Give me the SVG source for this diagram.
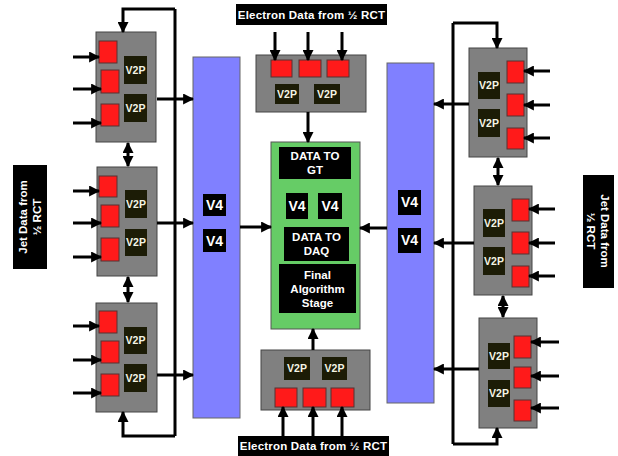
<svg xmlns="http://www.w3.org/2000/svg" width="618" height="456" viewBox="0 0 618 456">
<defs>
<marker id="ah" viewBox="0 0 10 10" refX="9" refY="5" markerWidth="11" markerHeight="11" markerUnits="userSpaceOnUse" orient="auto-start-reverse">
<path d="M0,0 L10,5 L0,10 z" fill="#000"/>
</marker>
<style>
.card{fill:#808080;stroke:#444;stroke-width:1}
.red{fill:#ff1a1a;stroke:#553333;stroke-width:1}
.v2p{fill:#1c1c06}
.blk{fill:#000}
.blue{fill:#8080ff;stroke:#666;stroke-width:1}
.green{fill:#66cc66;stroke:#555;stroke-width:1}
.t{font-family:"Liberation Sans",Arial,sans-serif;font-weight:bold;fill:#fff;text-anchor:middle}
.v2pt{font-size:10.5px;fill:#f4f4e4}
.v4t{font-size:14px}
.gt{font-size:11.5px}
.lbl{font-size:11.5px}
.c{fill:none;stroke:#000;stroke-width:3}
.a{marker-end:url(#ah)}
.d{marker-start:url(#ah);marker-end:url(#ah)}
</style>
</defs>

<!-- Blue bars -->
<g id="blue-left">
<rect class="blue" x="193" y="57" width="47" height="361"/>
<rect class="blk" x="203" y="194" width="23" height="22"/>
<text class="t v4t" x="214.5" y="210">V4</text>
<rect class="blk" x="203" y="229" width="23" height="23"/>
<text class="t v4t" x="214.5" y="246">V4</text>
</g>
<g id="blue-right">
<rect class="blue" x="387" y="63" width="47" height="340"/>
<rect class="blk" x="398" y="190" width="23" height="25"/>
<text class="t v4t" x="409.5" y="207">V4</text>
<rect class="blk" x="398" y="228" width="23" height="25"/>
<text class="t v4t" x="409.5" y="245">V4</text>
</g>

<!-- Green center -->
<g id="green">
<rect class="green" x="271" y="142" width="89" height="187"/>
<rect class="blk" x="279" y="147" width="72" height="32"/>
<text class="t gt" x="315" y="160">DATA TO</text>
<text class="t gt" x="315" y="174">GT</text>
<rect class="blk" x="286" y="193" width="22" height="26"/>
<text class="t v4t" x="297" y="211">V4</text>
<rect class="blk" x="318" y="193" width="24" height="26"/>
<text class="t v4t" x="330" y="211">V4</text>
<rect class="blk" x="284" y="227" width="65" height="34"/>
<text class="t gt" x="316.5" y="241">DATA TO</text>
<text class="t gt" x="316.5" y="255">DAQ</text>
<rect class="blk" x="279" y="264" width="77" height="49"/>
<text class="t gt" x="317.5" y="279">Final</text>
<text class="t gt" x="317.5" y="293">Algorithm</text>
<text class="t gt" x="317.5" y="307">Stage</text>
</g>

<!-- Left cards -->
<g id="left-card-1">
<rect class="card" x="96" y="32" width="60" height="110"/>
<rect class="red" x="99" y="41" width="18" height="22"/>
<rect class="red" x="101" y="70" width="18" height="23"/>
<rect class="red" x="101" y="104" width="18" height="22"/>
<rect class="v2p" x="124" y="56" width="23" height="28"/>
<text class="t v2pt" x="135.5" y="74">V2P</text>
<rect class="v2p" x="124" y="94" width="23" height="28"/>
<text class="t v2pt" x="135.5" y="112">V2P</text>
</g>
<g id="left-card-2">
<rect class="card" x="97" y="167" width="60" height="109"/>
<rect class="red" x="99" y="176" width="18" height="21"/>
<rect class="red" x="101" y="205" width="18" height="22"/>
<rect class="red" x="101" y="238" width="18" height="23"/>
<rect class="v2p" x="125" y="190" width="22" height="28"/>
<text class="t v2pt" x="136" y="208">V2P</text>
<rect class="v2p" x="125" y="229" width="22" height="27"/>
<text class="t v2pt" x="136" y="246">V2P</text>
</g>
<g id="left-card-3">
<rect class="card" x="96" y="303" width="61" height="109"/>
<rect class="red" x="99" y="311" width="18" height="22"/>
<rect class="red" x="101" y="341" width="18" height="22"/>
<rect class="red" x="101" y="374" width="18" height="22"/>
<rect class="v2p" x="124" y="327" width="23" height="27"/>
<text class="t v2pt" x="135.5" y="344">V2P</text>
<rect class="v2p" x="124" y="364" width="23" height="28"/>
<text class="t v2pt" x="135.5" y="382">V2P</text>
</g>

<!-- Right cards -->
<g id="right-card-1">
<rect class="card" x="469" y="48" width="58" height="109"/>
<rect class="v2p" x="478" y="72" width="22" height="27"/>
<text class="t v2pt" x="489" y="89">V2P</text>
<rect class="v2p" x="478" y="109" width="22" height="28"/>
<text class="t v2pt" x="489" y="127">V2P</text>
<rect class="red" x="507" y="61" width="17" height="22"/>
<rect class="red" x="507" y="94" width="17" height="22"/>
<rect class="red" x="507" y="128" width="17" height="21"/>
</g>
<g id="right-card-2">
<rect class="card" x="474" y="186" width="58" height="109"/>
<rect class="v2p" x="483" y="209" width="22" height="28"/>
<text class="t v2pt" x="494" y="227">V2P</text>
<rect class="v2p" x="483" y="247" width="22" height="28"/>
<text class="t v2pt" x="494" y="265">V2P</text>
<rect class="red" x="512" y="199" width="17" height="22"/>
<rect class="red" x="512" y="232" width="17" height="22"/>
<rect class="red" x="512" y="266" width="17" height="21"/>
</g>
<g id="right-card-3">
<rect class="card" x="479" y="318" width="58" height="110"/>
<rect class="v2p" x="488" y="343" width="22" height="26"/>
<text class="t v2pt" x="499" y="360">V2P</text>
<rect class="v2p" x="488" y="380" width="22" height="27"/>
<text class="t v2pt" x="499" y="397">V2P</text>
<rect class="red" x="514" y="336" width="17" height="22"/>
<rect class="red" x="514" y="367" width="17" height="21"/>
<rect class="red" x="514" y="400" width="17" height="21"/>
</g>

<!-- Electron cards -->
<g id="electron-top">
<rect class="card" x="256" y="55" width="110" height="57"/>
<rect class="red" x="271" y="60" width="21" height="17"/>
<rect class="red" x="299" y="60" width="22" height="17"/>
<rect class="red" x="327" y="60" width="22" height="17"/>
<rect class="v2p" x="275" y="84" width="24" height="20"/>
<text class="t v2pt" x="287" y="98">V2P</text>
<rect class="v2p" x="314" y="84" width="26" height="20"/>
<text class="t v2pt" x="327" y="98">V2P</text>
</g>
<g id="electron-bottom">
<rect class="card" x="261" y="350" width="109" height="60"/>
<rect class="v2p" x="284" y="357" width="26" height="23"/>
<text class="t v2pt" x="297" y="372">V2P</text>
<rect class="v2p" x="322" y="357" width="25" height="23"/>
<text class="t v2pt" x="334.5" y="372">V2P</text>
<rect class="red" x="275" y="388" width="22" height="19"/>
<rect class="red" x="303" y="388" width="23" height="19"/>
<rect class="red" x="331" y="388" width="23" height="19"/>
</g>

<!-- Labels -->
<g id="label-electron-top">
<rect class="blk" x="236" y="4" width="151" height="21"/>
<text class="t lbl" x="311.5" y="19" letter-spacing="0.2">Electron Data from ½ RCT</text>
</g>
<g id="label-electron-bottom">
<rect class="blk" x="238" y="436" width="151" height="20"/>
<text class="t lbl" x="313.5" y="450" letter-spacing="0.2">Electron Data from ½ RCT</text>
</g>
<g id="label-jet-left">
<rect class="blk" x="13" y="165" width="34" height="104"/>
<text class="t lbl" transform="translate(30,217) rotate(-90)"><tspan x="0" y="-3">Jet Data from</tspan><tspan x="0" y="11">½ RCT</tspan></text>
</g>
<g id="label-jet-right">
<rect class="blk" x="583" y="175" width="31" height="113"/>
<text class="t lbl" transform="translate(598,231) rotate(90)"><tspan x="0" y="-3">Jet Data from</tspan><tspan x="0" y="11">½ RCT</tspan></text>
</g>

<!-- Connectors -->
<g id="connectors">
<path class="c a" d="M73,57 H99"/>
<path class="c a" d="M73,89 H101"/>
<path class="c a" d="M73,123 H101"/>
<path class="c a" d="M73,191 H99"/>
<path class="c a" d="M73,223 H101"/>
<path class="c a" d="M73,257 H101"/>
<path class="c a" d="M73,326 H99"/>
<path class="c a" d="M73,360 H101"/>
<path class="c a" d="M73,393 H101"/>
<path class="c" d="M175,9 V436"/>
<path class="c a" d="M175,9 H123 V32"/>
<path class="c a" d="M175,436 H123 V412"/>
<path class="c a" d="M157,99 H193"/>
<path class="c a" d="M157,223 H193"/>
<path class="c a" d="M157,375 H193"/>
<path class="c d" d="M128,143 V166"/>
<path class="c d" d="M128,277 V302"/>
<path class="c a" d="M550,71 H524"/>
<path class="c a" d="M550,105 H524"/>
<path class="c a" d="M550,138 H524"/>
<path class="c a" d="M555,209 H529"/>
<path class="c a" d="M555,243 H529"/>
<path class="c a" d="M555,276 H529"/>
<path class="c a" d="M559,342 H531"/>
<path class="c a" d="M559,376 H531"/>
<path class="c a" d="M559,408 H531"/>
<path class="c" d="M453,23 V444"/>
<path class="c a" d="M453,23 H497 V48"/>
<path class="c a" d="M453,444 H497 V428"/>
<path class="c a" d="M469,104 H434"/>
<path class="c a" d="M474,243 H434"/>
<path class="c a" d="M479,369 H434"/>
<path class="c d" d="M498,158 V185"/>
<path class="c d" d="M503,296 V317"/>
<path class="c a" d="M240,227 H271"/>
<path class="c a" d="M387,228 H360"/>
<path class="c a" d="M308,112 V142"/>
<path class="c a" d="M313,350 V329"/>
<path class="c a" d="M275,32 V60"/>
<path class="c a" d="M308,32 V60"/>
<path class="c a" d="M342,32 V60"/>
<path class="c a" d="M283,436 V407"/>
<path class="c a" d="M313,436 V407"/>
<path class="c a" d="M342,436 V407"/>
</g>
</svg>
